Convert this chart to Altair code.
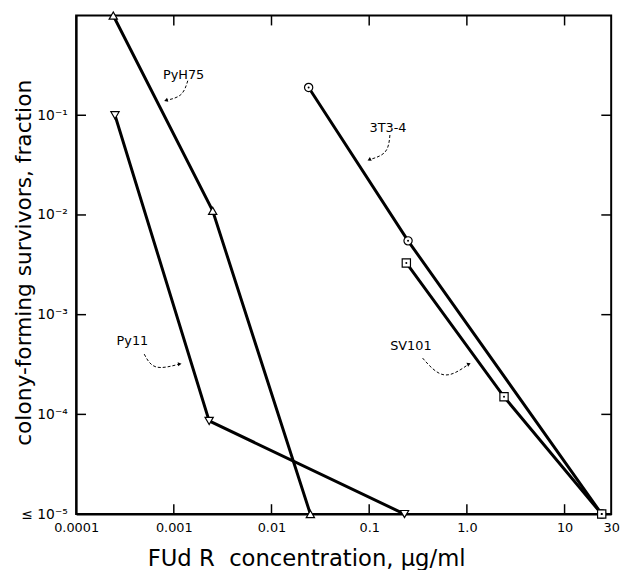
import altair as alt
import pandas as pd

# ---- data ----
series_names = ["PyH75", "Py11", "3T3-4", "SV101"]
pyh75_x = [0.00024, 0.0025, 0.025]
pyh75_y = [1.0, 0.011, 1e-5]
py11_x = [0.00025, 0.0023, 0.23]
py11_y = [0.1, 8.6e-5, 1e-5]
t3_x = [0.024, 0.25, 24]
t3_y = [0.19, 0.0055, 1e-5]
sv101_x = [0.24, 2.4, 24]
sv101_y = [0.0033, 1.5e-4, 1e-5]

x_tick_values = [0.0001, 0.001, 0.01, 0.1, 1, 10, 30]
x_tick_labels = ["0.0001", "0.001", "0.01", "0.1", "1.0", "10", "30"]
x_minor_ticks = [0.001, 0.01, 0.1, 1, 10]
y_tick_values = [1e-5, 1e-4, 1e-3, 1e-2, 1e-1]
y_tick_labels = ["≤ 10⁻⁵", "10⁻⁴", "10⁻³", "10⁻²", "10⁻¹"]
y_minor_ticks = [1e-4, 1e-3, 1e-2, 1e-1]

label_text = ["PyH75", "3T3-4", "Py11", "SV101"]
label_x = [0.00126, 0.156, 0.000377, 0.267]
label_y = [0.255, 0.0744, 5.4e-4, 4.8e-4]

# curved arrows (start, middle, end) for each annotation
arrow_id = ["a1"] * 3 + ["a2"] * 3 + ["a3"] * 3 + ["a4"] * 3
arrow_ord = [0, 1, 2] * 4
arrow_x = [0.00139, 0.00118, 0.000831,
           0.163, 0.146, 0.100,
           0.000498, 0.000659, 0.00115,
           0.352, 0.587, 1.05]
arrow_y = [0.222, 0.161, 0.141,
           0.0634, 0.043, 0.0358,
           4.02e-4, 2.99e-4, 3.2e-4,
           3.67e-4, 2.49e-4, 3.2e-4]
head_x = [0.000831, 0.100, 0.00115, 1.05]
head_y = [0.141, 0.0358, 3.2e-4, 3.2e-4]
head_angle = [252, 243, 83, 66]

# ---- tables ----
rows = []
for name, xs, ys in zip(series_names,
                        [pyh75_x, py11_x, t3_x, sv101_x],
                        [pyh75_y, py11_y, t3_y, sv101_y]):
    for i, (xv, yv) in enumerate(zip(xs, ys)):
        rows.append({"series": name, "x": xv, "y": yv, "i": i})
df = pd.DataFrame(rows)
labels_df = pd.DataFrame({"text": label_text, "x": label_x, "y": label_y})
arrows_df = pd.DataFrame({"id": arrow_id, "o": arrow_ord, "x": arrow_x, "y": arrow_y})
heads_df = pd.DataFrame({"x": head_x, "y": head_y, "angle": head_angle})
xt_df = pd.DataFrame({"v": x_minor_ticks})
yt_df = pd.DataFrame({"v": y_minor_ticks})

W, H = 542, 505
FONT = "DejaVu Sans"

x_expr = " : ".join(
    f"abs(datum.value - {v}) < {v}*1e-6 ? '{l}'" for v, l in zip(x_tick_values, x_tick_labels)
) + " : ''"
y_expr = "[" + ",".join(f"'{l}'" for l in y_tick_labels) + "][round(log(datum.value)/LN10)+5]"

xscale = alt.Scale(type="log", domain=[0.0001, 30], nice=False)
yscale = alt.Scale(type="log", domain=[1e-5, 1], nice=False)

x_enc = alt.X("x:Q", scale=xscale, axis=alt.Axis(
    values=x_tick_values, labelExpr=x_expr, ticks=False, grid=False,
    domainColor="black", domainWidth=2, labelFont=FONT, labelFontSize=13,
    labelColor="black", labelPadding=8, labelFlush=False, labelOverlap=False,
    title="FUd R\u00a0\u00a0concentration, μg/ml", titleFont=FONT, titleFontSize=23,
    titleFontWeight="normal", titleColor="black", titleX=233, titleY=45,
    titleBaseline="middle"))
y_enc = alt.Y("y:Q", scale=yscale, axis=alt.Axis(
    values=y_tick_values, labelExpr=y_expr, ticks=False, grid=False,
    domainColor="black", domainWidth=2, labelFont=FONT, labelFontSize=14,
    labelColor="black", labelPadding=9, labelOverlap=False, labelFlush=False,
    title="colony-forming survivors, fraction", titleFont=FONT, titleFontSize=22,
    titleFontWeight="normal", titleColor="black", titleX=-53, titleY=250,
    titleBaseline="middle"))

lines = alt.Chart(df).mark_line(color="black", strokeWidth=3).encode(
    x=x_enc, y=y_enc, detail="series:N", order="i:Q")

points = alt.Chart(df).mark_point(filled=True, fill="white", stroke="black",
                                  strokeWidth=1.2, opacity=1, size=70).encode(
    x="x:Q", y="y:Q",
    shape=alt.Shape("series:N", legend=None,
                    scale=alt.Scale(domain=series_names,
                                    range=["triangle-up", "triangle-down", "circle", "square"])))

dots = alt.Chart(df).transform_filter(
    alt.FieldOneOfPredicate(field="series", oneOf=["3T3-4", "SV101"])
).mark_point(filled=True, color="black", size=4, opacity=1).encode(x="x:Q", y="y:Q")

texts = alt.Chart(labels_df).mark_text(font=FONT, fontSize=13, color="black",
                                       baseline="middle").encode(
    x="x:Q", y="y:Q", text="text:N")

arrows = alt.Chart(arrows_df).mark_line(color="black", strokeWidth=1,
                                        strokeDash=[3, 2], interpolate="natural").encode(
    x="x:Q", y="y:Q", detail="id:N", order="o:Q")

heads = alt.Chart(heads_df).mark_point(shape="triangle-up", filled=True, color="black",
                                       size=18, opacity=1).encode(
    x="x:Q", y="y:Q", angle=alt.Angle("angle:Q", scale=None))

xt_bottom = alt.Chart(xt_df).mark_rule(color="black", strokeWidth=1.5).encode(
    x="v:Q", y=alt.value(H), y2=alt.value(H - 10))
xt_top = alt.Chart(xt_df).mark_rule(color="black", strokeWidth=1.5).encode(
    x="v:Q", y=alt.value(0), y2=alt.value(10))
yt_left = alt.Chart(yt_df).mark_rule(color="black", strokeWidth=1.5).encode(
    y="v:Q", x=alt.value(0), x2=alt.value(10))
yt_right = alt.Chart(yt_df).mark_rule(color="black", strokeWidth=1.5).encode(
    y="v:Q", x=alt.value(W), x2=alt.value(W - 10))

chart = alt.layer(
    lines, xt_bottom, xt_top, yt_left, yt_right, arrows, heads, texts, points, dots
).properties(
    width=W, height=H,
    autosize=alt.AutoSizeParams(type="none"),
    padding={"left": 69, "top": 4, "right": 14, "bottom": 53},
    background="white",
).configure_view(stroke="black", strokeWidth=2)

chart.save("out.html", embed_options={"renderer": "svg", "actions": False})
